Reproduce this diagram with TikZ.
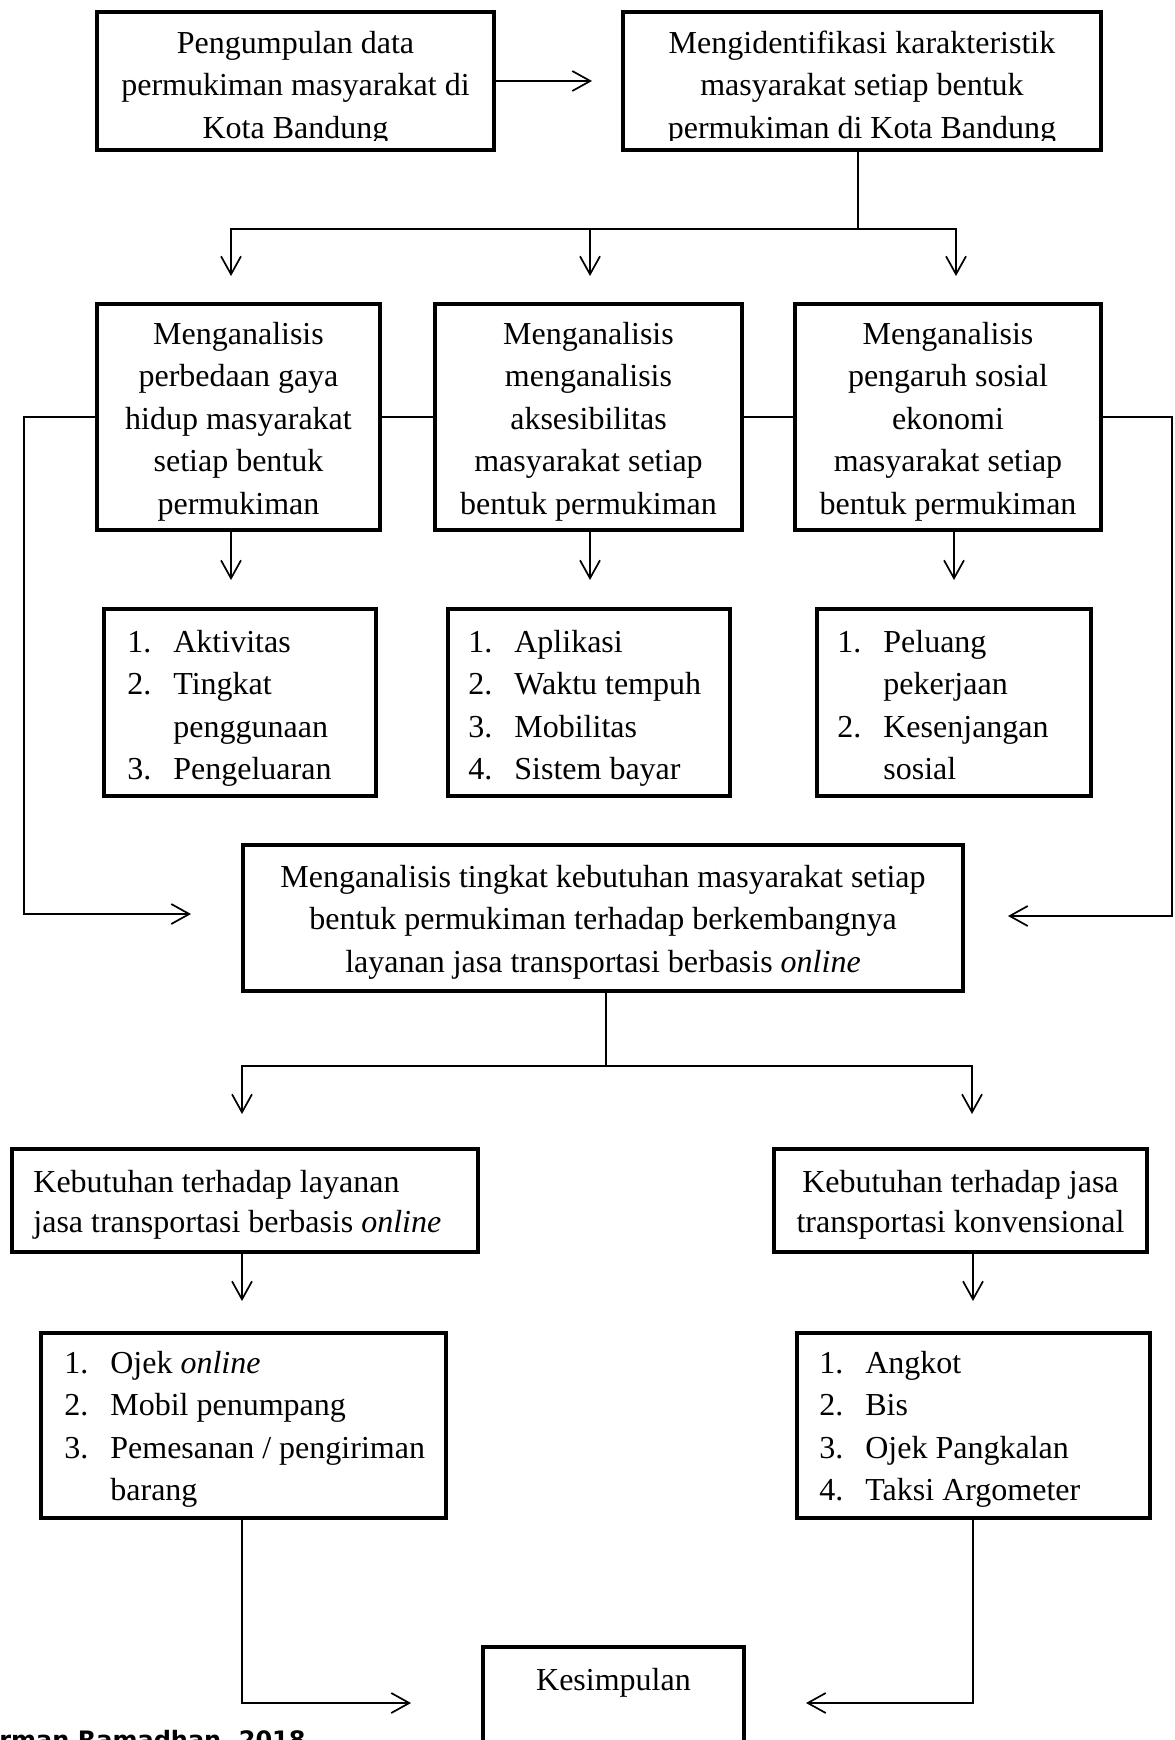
\documentclass[tikz,border=0pt]{standalone}
\usepackage{fontspec}
\setmainfont{Liberation Serif}
\newfontfamily\footfont{DejaVu Sans}
\usetikzlibrary{arrows.meta,calc}
\newcommand\nm[1]{\makebox[23pt][l]{#1}}
\newcommand\cont{\hspace*{23pt}}
\begin{document}
\begin{tikzpicture}[x=0.5pt,y=-0.5pt,
  box/.style={draw, line width=2pt, fill=white, inner sep=0pt},
  txt/.style={inner sep=0pt, anchor=north, align=center, font=\fontsize{16pt}{21.25pt}\selectfont},
  ltxt/.style={inner sep=0pt, anchor=north west, align=left, font=\fontsize{16pt}{21.25pt}\selectfont},
  conn/.style={line width=0.85pt},
  arr/.style={conn, -{Straight Barb[length=9pt,width=10pt]}}]
\useasboundingbox (0,0) rectangle (1174,1740);

% boxes
\node[box, minimum width=198.5pt, minimum height=69pt] (b1) at (295.5,81) {};
\node[box, minimum width=239pt, minimum height=69pt] (b2) at (862,81) {};
\node[box, minimum width=141.5pt, minimum height=113pt] (bA) at (238.5,417) {};
\node[box, minimum width=153.5pt, minimum height=113pt] (bB) at (588.5,417) {};
\node[box, minimum width=153pt, minimum height=113pt] (bC) at (948,417) {};
\node[box, minimum width=136pt, minimum height=93.5pt] (lA) at (240,702.5) {};
\node[box, minimum width=141pt, minimum height=93.5pt] (lB) at (589,702.5) {};
\node[box, minimum width=137pt, minimum height=93.5pt] (lC) at (954,702.5) {};
\node[box, minimum width=360pt, minimum height=73pt] (bM) at (603,918) {};
\node[box, minimum width=233pt, minimum height=51.5pt] (bL) at (245,1200.5) {};
\node[box, minimum width=186.5pt, minimum height=51.5pt] (bR) at (960.5,1200.5) {};
\node[box, minimum width=202.5pt, minimum height=92.5pt] (oL) at (243.5,1425.5) {};
\node[box, minimum width=176.5pt, minimum height=92.5pt] (oR) at (973.5,1425.5) {};
\node[box, minimum width=130.5pt, minimum height=100pt, anchor=north] (bK) at (613.5,1645) {};

% texts
\begin{scope}
\clip (0,0) rectangle (1174,140);
\node[txt] (t1) at (295.5,23) {\strut Pengumpulan data\\permukiman masyarakat di\\Kota Bandung};
\node[txt] (t2) at (862,23) {\strut Mengidentifikasi karakteristik\\masyarakat setiap bentuk\\permukiman di Kota Bandung};
\end{scope}
\node[txt] (tA) at (238.5,314) {\strut Menganalisis\\perbedaan gaya\\hidup masyarakat\\setiap bentuk\\permukiman};
\node[txt] (tB) at (588.5,314) {\strut Menganalisis\\menganalisis\\aksesibilitas\\masyarakat setiap\\bentuk permukiman};
\node[txt] (tC) at (948,314) {\strut Menganalisis\\pengaruh sosial\\ekonomi\\masyarakat setiap\\bentuk permukiman};
\node[ltxt] (sA) at (127,622) {\strut\nm{1.}Aktivitas\\\nm{2.}Tingkat\\\cont penggunaan\\\nm{3.}Pengeluaran};
\node[ltxt] (sB) at (468,622) {\strut\nm{1.}Aplikasi\\\nm{2.}Waktu tempuh\\\nm{3.}Mobilitas\\\nm{4.}Sistem bayar};
\node[ltxt] (sC) at (837,622) {\strut\nm{1.}Peluang\\\cont pekerjaan\\\nm{2.}Kesenjangan\\\cont sosial};
\node[txt] (tM) at (603,857) {\strut Menganalisis tingkat kebutuhan masyarakat setiap\\bentuk permukiman terhadap berkembangnya\\layanan jasa transportasi berbasis \textit{online}};
\node[ltxt, font=\fontsize{16pt}{20pt}\selectfont] (tL) at (33,1164) {\strut Kebutuhan terhadap layanan\\jasa transportasi berbasis \textit{online}};
\node[txt, font=\fontsize{16pt}{20pt}\selectfont] (tR) at (960.5,1164) {\strut Kebutuhan terhadap jasa\\transportasi konvensional};
\begin{scope}
\clip (0,1331) rectangle (1174,1507);
\node[ltxt] (sL) at (64,1343) {\strut\nm{1.}Ojek \textit{online}\\\nm{2.}Mobil penumpang\\\nm{3.}Pemesanan / pengiriman\\\cont barang};
\node[ltxt] (sR) at (819,1343) {\strut\nm{1.}Angkot\\\nm{2.}Bis\\\nm{3.}Ojek Pangkalan\\\nm{4.}Taksi Argometer};
\end{scope}
\node[txt] (tK) at (613.5,1660) {\strut Kesimpulan};
\node[inner sep=0pt, anchor=base west, font=\footfont\bfseries\fontsize{12pt}{14pt}\selectfont] (ft) at (-1,1748) {rman Ramadhan, 2018};

% connectors
\draw[arr, shorten >=14.5pt] (b1.east) -- (b2.west);
\coordinate (j1) at (858,229);
\coordinate (aA) at (231,276);
\coordinate (aB) at (590,276);
\coordinate (aC) at (956,276);
\draw[conn] (b2.south -| j1) -- (j1);
\draw[arr] (j1) -| (aA);
\draw[arr] (j1) -| (aC);
\draw[arr] (aB |- j1) -- (aB);

\draw[conn] (bA.east) -- (bB.west);
\draw[conn] (bB.east) -- (bC.west);
\coordinate (lx) at (24,0);
\coordinate (la) at (191,914);
\coordinate (rx) at (1172,0);
\coordinate (ra) at (1008,916);
\draw[arr] (bA.west) -- (bA.west -| lx) |- (la);
\draw[arr] (bC.east) -- (bC.east -| rx) |- (ra);

\coordinate (dA) at (231,580);
\coordinate (dB) at (590,580);
\coordinate (dC) at (954,580);
\draw[arr] (dA |- bA.south) -- (dA);
\draw[arr] (dB |- bB.south) -- (dB);
\draw[arr] (dC |- bC.south) -- (dC);

\coordinate (j2) at (606,1066);
\coordinate (eL) at (242,1114);
\coordinate (eR) at (972,1114);
\draw[conn] (bM.south -| j2) -- (j2);
\draw[arr] (j2) -| (eL);
\draw[arr] (j2) -| (eR);

\coordinate (fL) at (242,1301);
\coordinate (fR) at (973,1301);
\draw[arr] (fL |- bL.south) -- (fL);
\draw[arr] (fR |- bR.south) -- (fR);

\coordinate (gL) at (411,1703);
\coordinate (gR) at (806,1703);
\draw[arr] (oL.south -| fL) |- (gL);
\draw[arr] (oR.south -| fR) |- (gR);
\end{tikzpicture}
\end{document}
